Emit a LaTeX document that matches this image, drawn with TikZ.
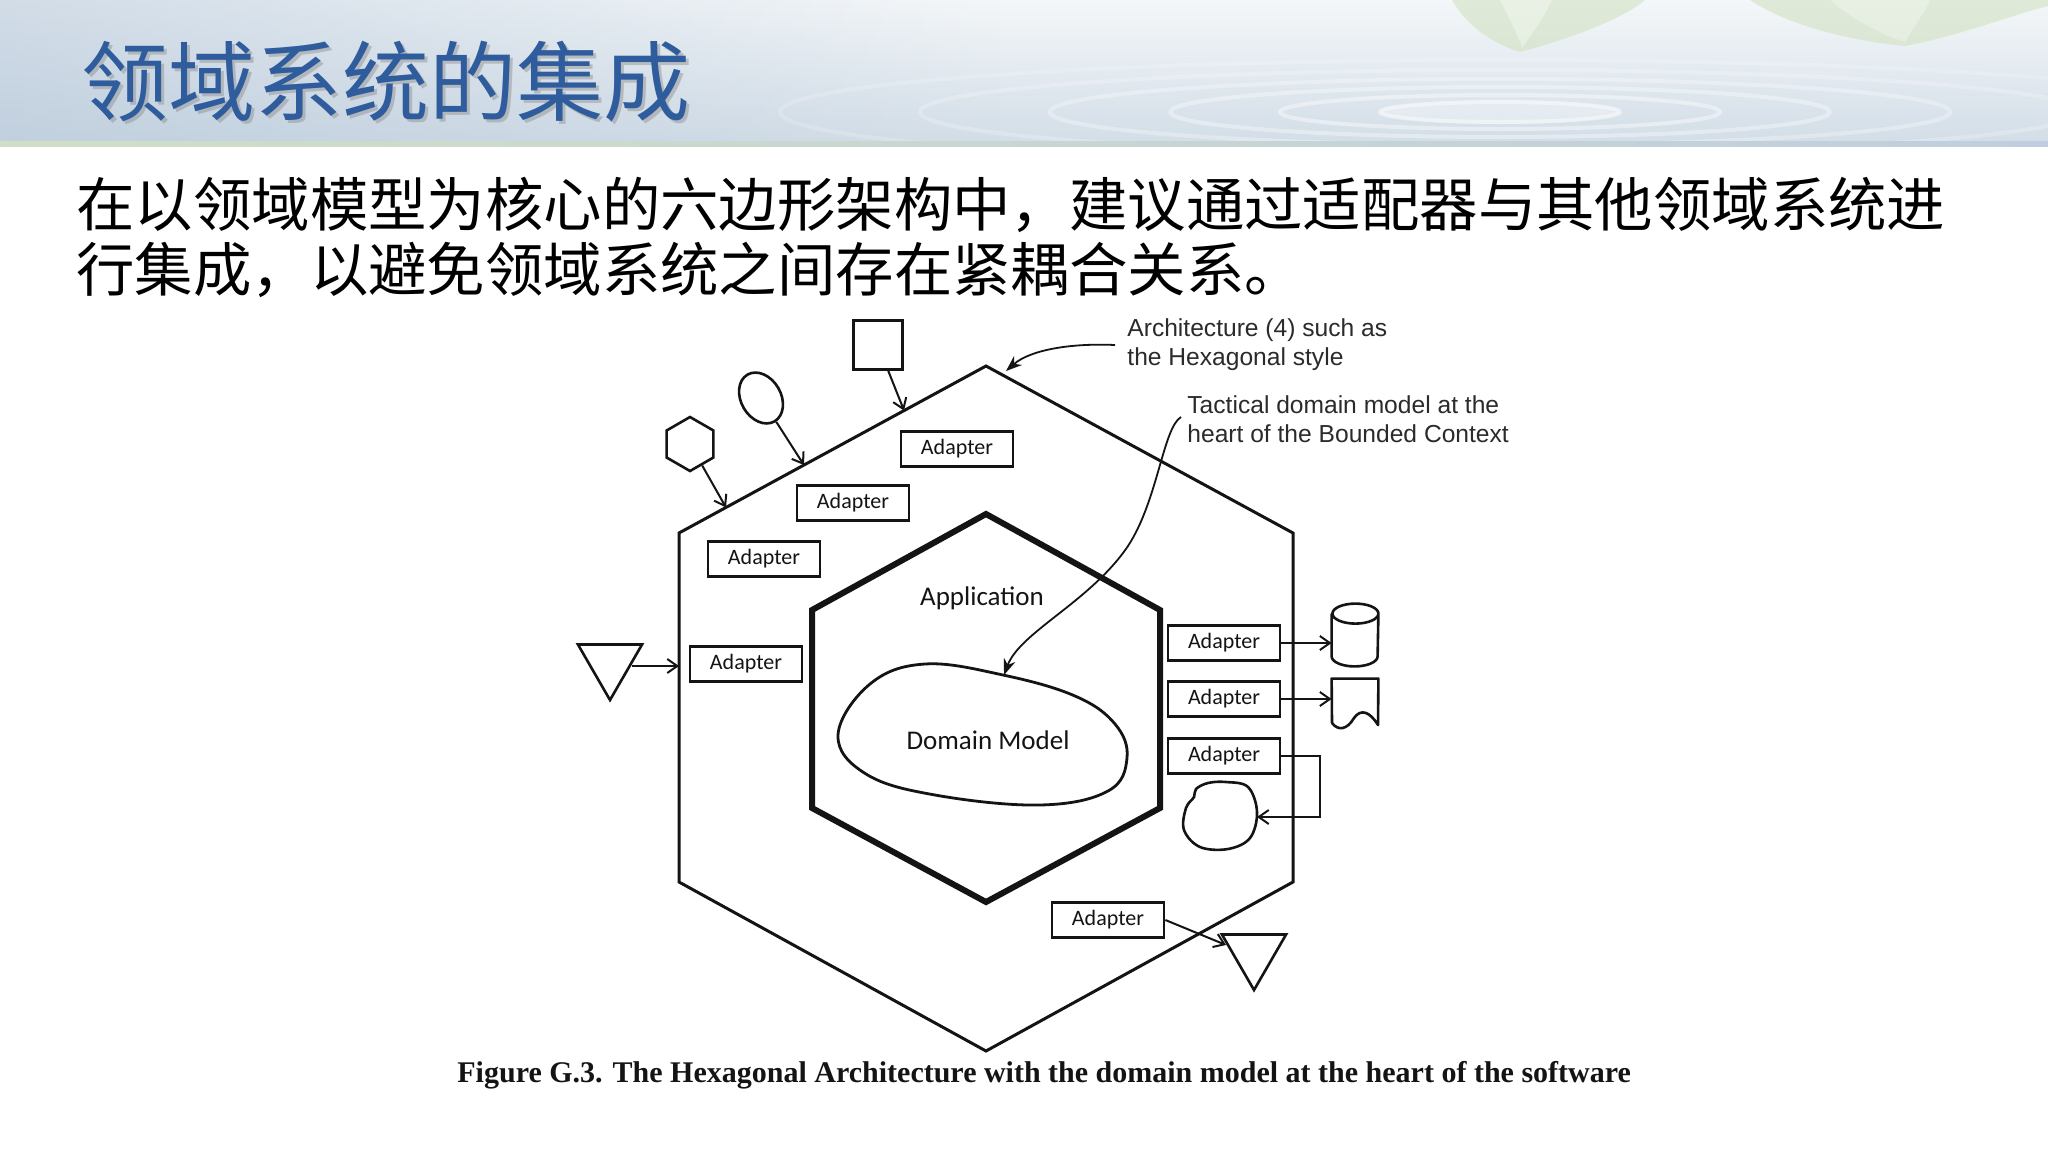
\documentclass[tikz,border=0pt]{standalone}
\usepackage{fontspec}
\usetikzlibrary{arrows.meta,shapes.geometric,calc,fadings}
\newfontfamily\cjk{Noto Sans CJK SC}
\newfontfamily\hand{Carlito}
\newfontfamily\anno{Liberation Sans}
\newfontfamily\capfont{Liberation Serif}
\definecolor{titleblue}{HTML}{2E5C9C}
\definecolor{hdtop}{HTML}{F4F7F9}
\definecolor{hdbot}{HTML}{D2DDE7}
\definecolor{hdleft}{HTML}{AFC2D6}
\definecolor{leafgreen}{HTML}{CFDFBC}
\definecolor{notegray}{HTML}{2B2B2B}
\definecolor{ink}{HTML}{141414}
\tikzfading[name=fadeR, left color=transparent!0, right color=transparent!100]
\begin{document}
\begin{tikzpicture}[x=0.5pt,y=-0.5pt,
  adapter/.style={draw=ink, line width=1.4pt, minimum width=56pt, minimum height=17.5pt,
    inner sep=0pt, text=ink, font=\hand\fontsize{11pt}{13pt}\selectfont},
  outerhex/.style={draw=ink, line width=1.5pt, line join=miter},
  innerhex/.style={draw=ink, line width=3pt, line join=miter},
  conn/.style={draw=ink, line width=1pt, -{Straight Barb[length=5pt,width=7pt]}},
  note/.style={draw=ink, line width=0.9pt, -{Stealth[length=8pt,width=6pt]}},
  shp/.style={draw=ink, line width=1.3pt, inner sep=0pt},
  notetext/.style={font=\anno\fontsize{12.3pt}{14.5pt}\selectfont, text=notegray,
    align=left, anchor=west, inner sep=0pt},
  label/.style={font=\hand\fontsize{13.5pt}{15pt}\selectfont, text=ink, inner sep=0pt},
]
\useasboundingbox (0,0) rectangle (2048,1151);
\fill[white] (0,0) rectangle (2048,1151);

% ---------- header banner ----------
\shade[top color=hdtop, bottom color=hdbot] (0,0) rectangle (2048,145);
\fill[hdleft, opacity=0.5, path fading=fadeR] (0,0) rectangle (1000,145);
\begin{scope}
  \clip (0,0) rectangle (2048,143);
  \foreach \rx/\ry/\op in {120/10/0.45, 220/17/0.4, 330/25/0.35, 450/33/0.3, 580/42/0.22, 720/52/0.18}
    \draw[white, line width=2pt, opacity=\op] (1500,112) ellipse [x radius=\rx*0.5pt, y radius=\ry*0.5pt];
  \fill[white, opacity=0.3] (1500,112) ellipse [x radius=60pt, y radius=6pt];
  % leaves hanging at the top
  \fill[leafgreen, opacity=0.55] (1452,0) .. controls (1468,28) and (1495,44) .. (1520,52)
        .. controls (1565,40) and (1622,20) .. (1645,0) -- cycle;
  \fill[white, opacity=0.35] (1500,0) .. controls (1510,20) and (1518,35) .. (1522,48)
        .. controls (1535,30) and (1545,15) .. (1552,0) -- cycle;
  \fill[leafgreen, opacity=0.55] (1750,0) .. controls (1792,28) and (1860,42) .. (1905,46)
        .. controls (1962,35) and (2012,15) .. (2048,6) -- (2048,0) -- cycle;
  \fill[white, opacity=0.3] (1830,0) .. controls (1850,18) and (1880,34) .. (1905,42)
        .. controls (1915,25) and (1925,12) .. (1930,0) -- cycle;
\end{scope}
\shade[left color=leafgreen!80!hdbot, right color=hdleft!80!white] (0,141) rectangle (2048,147);
\fill[white] (0,147) rectangle (2048,150);

% ---------- title and body text ----------
\node[anchor=west, inner sep=0pt, text=black!45, opacity=0.45,
      font=\cjk\fontsize{43.5pt}{48pt}\selectfont] at (84,85) {领域系统的集成};
\node[anchor=west, inner sep=0pt, text=titleblue,
      font=\cjk\fontsize{43.5pt}{48pt}\selectfont] (title) at (81,82) {领域系统的集成};
\node[anchor=west, inner sep=0pt, text=black,
      font=\cjk\fontsize{29.2pt}{32pt}\selectfont] (body1) at (76,205)
      {在以领域模型为核心的六边形架构中，建议通过适配器与其他领域系统进};
\node[anchor=west, inner sep=0pt, text=black,
      font=\cjk\fontsize{29.2pt}{32pt}\selectfont] (body2) at (76,270)
      {行集成，以避免领域系统之间存在紧耦合关系。};

% ---------- hexagons ----------
\coordinate (top) at (986,366);  \coordinate (ur) at (1293,533);
\coordinate (lr)  at (1293,882); \coordinate (bot) at (986,1051);
\coordinate (ll)  at (679,882);  \coordinate (ul) at (679,533);
\draw[outerhex] (top) -- (ur) -- (lr) -- (bot) -- (ll) -- (ul) -- cycle;

\coordinate (itop) at (986,514); \coordinate (iur) at (1160,610);
\coordinate (ilr)  at (1160,808); \coordinate (ibot) at (986,902);
\coordinate (ill)  at (812,808); \coordinate (iul) at (812,610);
\draw[innerhex] (itop) -- (iur) -- (ilr) -- (ibot) -- (ill) -- (iul) -- cycle;

\node[label] (app) at (982,598) {Application};

% domain model blob
\draw[draw=ink, line width=1.4pt] plot[smooth cycle, tension=0.65] coordinates
  {(838,735) (870,684) (925,664) (1003,675) (1075,696) (1115,724) (1127,758)
   (1108,791) (1040,805) (935,795) (866,774)};
\node[label] (dm) at (988,740) {Domain Model};
\coordinate (dmtop) at (1004,675);

% ---------- adapters ----------
\node[adapter] (a1) at (957,449) {Adapter};
\node[adapter] (a2) at (853,503) {Adapter};
\node[adapter] (a3) at (764,559) {Adapter};
\node[adapter] (a4) at (746,664) {Adapter};
\node[adapter] (a5) at (1224,643) {Adapter};
\node[adapter] (a6) at (1224,699) {Adapter};
\node[adapter] (a7) at (1224,756) {Adapter};
\node[adapter] (a8) at (1108,920) {Adapter};

% ---------- outside actors on the upper-left edge ----------
\node[shp, minimum size=24.5pt] (sq) at (878,345) {};
\node[shp, ellipse, minimum width=20pt, minimum height=27pt, rotate=30] (el) at (761,398) {};
\node[shp, regular polygon, regular polygon sides=6, shape border rotate=30,
      minimum size=27pt] (hx) at (690,444) {};
\coordinate (e1) at ($(ul)!0.733!(top)$);
\coordinate (e2) at ($(ul)!0.407!(top)$);
\coordinate (e3) at ($(ul)!0.153!(top)$);
\draw[conn] (sq) -- (e1);
\draw[conn] (el) -- (e2);
\draw[conn] (hx) -- (e3);

% left actor
\node[shp, regular polygon, regular polygon sides=3, shape border rotate=180,
      minimum size=37pt] (tl) at (610,663) {};
\coordinate (lw) at (679,666);
\draw[conn] ([xshift=11pt,yshift=-1.5pt]tl.center) -- (lw);

% ---------- outside actors on the right ----------
\node[minimum width=23pt, minimum height=31pt, inner sep=0pt] (cyl) at (1355,635) {};
\draw[draw=ink, line width=1.3pt]
  ([yshift=-5pt]cyl.north west) -- ([yshift=5pt]cyl.south west)
  arc[start angle=180, end angle=360, x radius=11.5pt, y radius=5pt]
  -- ([yshift=-5pt]cyl.north east)
  arc[start angle=0, end angle=360, x radius=11.5pt, y radius=5pt];
\draw[conn] (a5.east) -- (a5.east -| cyl.west);

\node[minimum width=23pt, minimum height=23pt, inner sep=0pt] (doc) at (1355,702) {};
\draw[draw=ink, line width=1.3pt, line join=round]
  (1332,723) -- (doc.north west) -- (doc.north east) -- (1378,725)
  .. controls (1370,712) and (1361,708) .. (1354,718)
  .. controls (1347,730) and (1338,731) .. (1332,723);
\draw[conn] (a6.east) -- (a6.east -| doc.west);

% free-form resource below the adapters
\draw[draw=ink, line width=1.3pt] plot[smooth cycle, tension=0.6] coordinates
  {(1226,782) (1248,787) (1257,812) (1250,838) (1228,849) (1200,847) (1184,830)
   (1186,808) (1194,797) (1196,789) (1208,783)};
\coordinate (blobtip) at (1257,817);
\coordinate (k1) at (1320,756);
\coordinate (k2) at (1320,817);
\draw[conn] (a7.east) -- (k1) -- (k2) -- (blobtip);

% bottom actor
\node[shp, regular polygon, regular polygon sides=3, shape border rotate=180,
      minimum size=37pt] (tb) at (1254,953) {};
\coordinate (tbt) at (1226,945);
\draw[conn] (a8.east) -- (tbt);

% ---------- annotations ----------
\node[notetext] (arch) at (1127,345) {Architecture (4) such as\\the Hexagonal style};
\coordinate (archtip) at (1006,371);
\draw[note] ([xshift=-6pt,yshift=0pt]arch.west) .. controls (1070,343) and (1030,350) .. (archtip);

\node[notetext] (tact) at (1187,419) {Tactical domain model at the\\heart of the Bounded Context};
\draw[note] ([xshift=-3pt,yshift=1pt]tact.west) .. controls (1163,428) and (1158,500) .. (1128,546)
  .. controls (1090,602) and (1020,632) .. (dmtop);

% ---------- caption ----------
\node[anchor=west, inner sep=0pt, text=ink,
      font=\capfont\bfseries\fontsize{15pt}{18pt}\selectfont] (cap) at (457,1075)
  {Figure G.3. The Hexagonal Architecture with the domain model at the heart of the software};
\end{tikzpicture}
\end{document}
